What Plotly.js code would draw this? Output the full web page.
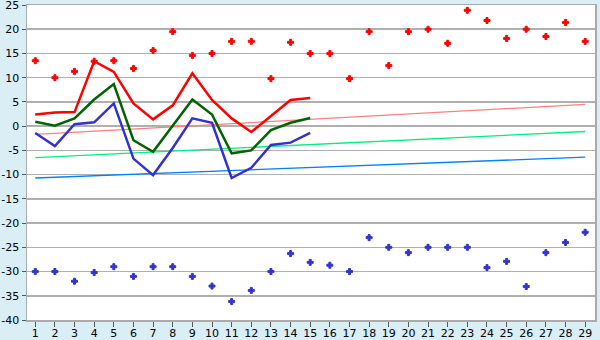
<!DOCTYPE html>
<html>
<head>
<meta charset="utf-8">
<script src="https://cdn.plot.ly/plotly-3.0.1.min.js"></script>
<style>html,body{margin:0;padding:0;background:#d9eef5;}#chart{width:600px;height:340px;}</style>
</head>
<body>
<div id="chart"></div>
<script>
const days = [1,2,3,4,5,6,7,8,9,10,11,12,13,14,15,16,17,18,19,20,21,22,23,24,25,26,27,28,29];
const lineDays = [1,2,3,4,5,6,7,8,9,10,11,12,13,14,15];
const maxPoints = [13.5,10,11.3,13.4,13.5,11.9,15.6,19.5,14.6,15,17.5,17.5,9.8,17.3,15,15,9.8,19.5,12.5,19.5,20,17.1,23.9,21.8,18.1,20,18.5,21.4,17.5];
const minPoints = [-30,-30,-32,-30.2,-29,-31,-29,-29,-31,-33,-36.2,-33.9,-30,-26.3,-28.1,-28.7,-30,-23,-25,-26.1,-25,-25,-25,-29.2,-27.9,-33.1,-26.1,-24,-21.9];
const redLine = [2.4,2.8,2.9,13.4,11.2,4.7,1.4,4.3,10.9,5.4,1.6,-1.2,2.1,5.4,5.8];
const greenLine = [0.9,0.1,1.6,5.5,8.7,-2.9,-5.3,0.1,5.5,2.4,-5.6,-5.0,-0.8,0.7,1.7];
const blueLine = [-1.4,-4.1,0.4,0.8,4.7,-6.7,-10.1,-4.5,1.6,0.7,-10.7,-8.6,-3.9,-3.4,-1.4];
const trendDays = [1,29];
const pinkTrend = [-1.7,4.5];
const greenTrend = [-6.5,-1.1];
const blueTrend = [-10.7,-6.4];
const yTicks = [-40,-35,-30,-25,-20,-15,-10,-5,0,5,10,15,20,25];
const yTickText = ['-40','-35','-30','-25','-20','-15','-10','-5','0','5','10','15','20','25'];

const traces = [
  {x: trendDays, y: pinkTrend, mode:'lines', line:{color:'#ff8080', width:1.3}},
  {x: trendDays, y: greenTrend, mode:'lines', line:{color:'#00f080', width:1.3}},
  {x: trendDays, y: blueTrend, mode:'lines', line:{color:'#0080ff', width:1.3}},
  {x: lineDays, y: redLine, mode:'lines', line:{color:'#ff0000', width:2.5}},
  {x: lineDays, y: greenLine, mode:'lines', line:{color:'#006400', width:2.5}},
  {x: lineDays, y: blueLine, mode:'lines', line:{color:'#3333cc', width:2.5}},
  {x: days, y: maxPoints, mode:'markers', marker:{symbol:'cross', size:5, color:'#ff0000', line:{width:1, color:'#ff0000'}}},
  {x: days, y: minPoints, mode:'markers', marker:{symbol:'cross', size:5, color:'#3333cc', line:{width:1, color:'#3333cc'}}}
];

const layout = {
  width:600, height:340,
  margin:{l:27, r:5, t:5, b:20},
  paper_bgcolor:'#d9eef5',
  plot_bgcolor:'#ffffff',
  showlegend:false,
  font:{family:'DejaVu Sans, sans-serif', size:11, color:'#000'},
  xaxis:{
    range:[0.58,29.5], tickvals:days, ticks:'outside', ticklen:5, tickcolor:'#555',
    ticklabelstandoff:-3, ticklabeloverflow:'allow',
    showgrid:false, zeroline:false, showline:true, linecolor:'#aaaaaa', linewidth:1.5, mirror:true,
    tickfont:{size:11}, fixedrange:true
  },
  yaxis:{
    range:[-40,25], tickvals:yTicks, ticktext:yTickText, ticks:'outside', ticklen:4, tickcolor:'#555',
    ticklabeloverflow:'allow',
    showgrid:true, gridcolor:'#b0b0b0', gridwidth:1.5, zeroline:false, showline:true, linecolor:'#aaaaaa', linewidth:1.5, mirror:true,
    tickfont:{size:11}, fixedrange:true
  }
};
Plotly.newPlot('chart', traces, layout, {staticPlot:true, displayModeBar:false});
</script>
</body>
</html>
